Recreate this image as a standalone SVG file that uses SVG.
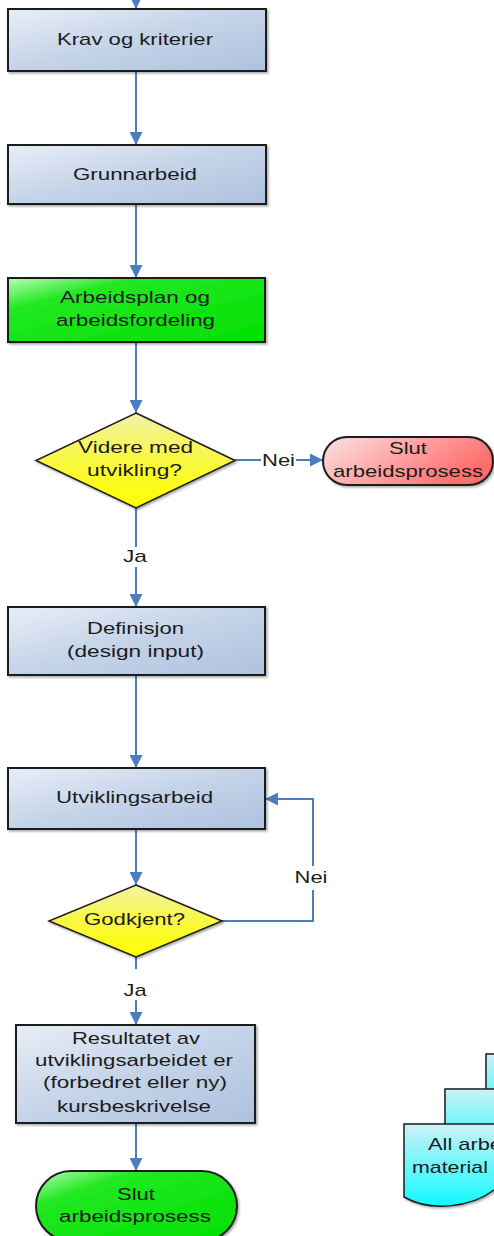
<svg xmlns="http://www.w3.org/2000/svg" width="494" height="1236" viewBox="0 0 494 1236">
<style>
text{font-family:"Liberation Sans",Arial,sans-serif;font-size:17px;fill:#1c1c1c;text-anchor:middle}
.box{fill:url(#gBlue);stroke:#1e1e1e;stroke-width:2;filter:url(#sh)}
.green{fill:url(#gGreen);stroke:#1e1e1e;stroke-width:2;filter:url(#sh)}
.dia{fill:url(#gYellow);stroke:#1e1e1e;stroke-width:1.5;filter:url(#sh)}
.red{fill:url(#gRed);stroke:#1e1e1e;stroke-width:2;filter:url(#sh)}
.doc{fill:url(#gCyan);stroke:#1e1e1e;stroke-width:1.5;filter:url(#sh)}
.ln{fill:none;stroke:#4a7ebf;stroke-width:2}
.arr{marker-end:url(#ah)}
.lbg{fill:#ffffff}
</style>
<defs>
<linearGradient id="gBlue" x1="0" y1="0" x2="1" y2="1">
<stop offset="0" stop-color="#e8eef7"/>
<stop offset="0.5" stop-color="#c4d3e8"/>
<stop offset="1" stop-color="#aec2de"/>
</linearGradient>
<linearGradient id="gGreen" x1="0" y1="0" x2="1" y2="1">
<stop offset="0" stop-color="#b8ffb8"/>
<stop offset="0.25" stop-color="#22e822"/>
<stop offset="1" stop-color="#00e000"/>
</linearGradient>
<linearGradient id="gYellow" x1="0" y1="0" x2="0" y2="1">
<stop offset="0" stop-color="#f2f2a8"/>
<stop offset="0.5" stop-color="#f8f840"/>
<stop offset="1" stop-color="#ffff00"/>
</linearGradient>
<linearGradient id="gRed" x1="0" y1="0" x2="1" y2="0.4">
<stop offset="0" stop-color="#fbe4e4"/>
<stop offset="0.6" stop-color="#ff9a9a"/>
<stop offset="1" stop-color="#ff6e6e"/>
</linearGradient>
<linearGradient id="gCyan" x1="0" y1="0" x2="0" y2="1">
<stop offset="0" stop-color="#cdf2f6"/>
<stop offset="1" stop-color="#10faff"/>
</linearGradient>
<filter id="sh" x="-5%" y="-5%" width="115%" height="120%">
<feDropShadow dx="1.5" dy="1.5" stdDeviation="1" flood-color="#000" flood-opacity="0.35"/>
</filter>
<marker id="ah" viewBox="0 0 10 10" refX="10" refY="5" markerWidth="13" markerHeight="13" markerUnits="userSpaceOnUse" orient="auto">
<path d="M0,0 L10,5 L0,10 z" fill="#4a7ebf"/>
</marker>
</defs>

<g id="connectors">
<line class="ln arr" x1="136" y1="-4" x2="136" y2="9"/>
<line class="ln arr" x1="136" y1="71" x2="136" y2="145"/>
<line class="ln arr" x1="136" y1="204" x2="136" y2="278"/>
<line class="ln arr" x1="136" y1="342" x2="136" y2="413"/>
<line class="ln arr" x1="235" y1="460" x2="323" y2="460"/>
<rect class="lbg" x="261" y="451" width="35" height="18"/>
<text x="278.5" y="466" textLength="33" lengthAdjust="spacingAndGlyphs">Nei</text>
<line class="ln arr" x1="136" y1="508" x2="136" y2="607"/>
<rect class="lbg" x="122" y="547" width="28" height="20"/>
<text x="135" y="562" textLength="24" lengthAdjust="spacingAndGlyphs">Ja</text>
<line class="ln arr" x1="136" y1="675" x2="136" y2="768"/>
<line class="ln arr" x1="136" y1="829" x2="136" y2="885"/>
<polyline class="ln arr" points="222,921 313,921 313,799 265,799"/>
<rect class="lbg" x="293" y="866" width="36" height="24"/>
<text x="311" y="883" textLength="33" lengthAdjust="spacingAndGlyphs">Nei</text>
<line class="ln arr" x1="136" y1="957" x2="136" y2="1025"/>
<rect class="lbg" x="121" y="969" width="30" height="31"/>
<text x="135" y="996" textLength="23" lengthAdjust="spacingAndGlyphs">Ja</text>
<line class="ln arr" x1="136" y1="1123" x2="136" y2="1171"/>
</g>

<g id="krav">
<rect class="box" x="8" y="9" width="258" height="62"/>
<text x="135" y="45" textLength="156" lengthAdjust="spacingAndGlyphs">Krav og kriterier</text>
</g>

<g id="grunnarbeid">
<rect class="box" x="8" y="145" width="258" height="59"/>
<text x="135" y="180" textLength="124" lengthAdjust="spacingAndGlyphs">Grunnarbeid</text>
</g>

<g id="arbeidsplan">
<rect class="green" x="8" y="278" width="257" height="64"/>
<text x="135" y="303" textLength="150" lengthAdjust="spacingAndGlyphs">Arbeidsplan og</text>
<text x="135.5" y="326" textLength="159" lengthAdjust="spacingAndGlyphs">arbeidsfordeling</text>
</g>

<g id="videre">
<polygon class="dia" points="136,413 235,460.5 136,508 36,460.5"/>
<text x="135.5" y="453" textLength="115" lengthAdjust="spacingAndGlyphs">Videre med</text>
<text x="134.5" y="476" textLength="95" lengthAdjust="spacingAndGlyphs">utvikling?</text>
</g>

<g id="slut1">
<rect class="red" x="323" y="437" width="170" height="48" rx="24" ry="24"/>
<text x="408" y="454" textLength="38" lengthAdjust="spacingAndGlyphs">Slut</text>
<text x="408" y="477" textLength="150" lengthAdjust="spacingAndGlyphs">arbeidsprosess</text>
</g>

<g id="definisjon">
<rect class="box" x="8" y="607" width="257" height="68"/>
<text x="135.5" y="634" textLength="97" lengthAdjust="spacingAndGlyphs">Definisjon</text>
<text x="135.5" y="657" textLength="137" lengthAdjust="spacingAndGlyphs">(design input)</text>
</g>

<g id="utvikling">
<rect class="box" x="8" y="768" width="257" height="61"/>
<text x="134.5" y="803" textLength="157" lengthAdjust="spacingAndGlyphs">Utviklingsarbeid</text>
</g>

<g id="godkjent">
<polygon class="dia" points="136,885 222,921 136,957 49,921"/>
<text x="134.5" y="925" textLength="101" lengthAdjust="spacingAndGlyphs">Godkjent?</text>
</g>

<g id="resultatet">
<rect class="box" x="16" y="1025" width="239" height="98"/>
<text x="136" y="1044" textLength="128" lengthAdjust="spacingAndGlyphs">Resultatet av</text>
<text x="134" y="1066" textLength="198" lengthAdjust="spacingAndGlyphs">utviklingsarbeidet er</text>
<text x="135" y="1088" textLength="184" lengthAdjust="spacingAndGlyphs">(forbedret eller ny)</text>
<text x="134" y="1112" textLength="154" lengthAdjust="spacingAndGlyphs">kursbeskrivelse</text>
</g>

<g id="slut2">
<rect class="green" x="36" y="1171" width="201" height="70" rx="35" ry="35"/>
<text x="136" y="1200" textLength="38" lengthAdjust="spacingAndGlyphs">Slut</text>
<text x="135" y="1222" textLength="152" lengthAdjust="spacingAndGlyphs">arbeidsprosess</text>
</g>

<g id="material">
<rect class="doc" x="486" y="1054" width="60" height="70"/>
<rect class="doc" x="445" y="1089" width="100" height="70"/>
<path class="doc" d="M404,1124 L560,1124 L560,1176 C540,1172 515,1176 494,1190 C470,1208 430,1212 404,1197 Z"/>
<text x="428" y="1150" style="text-anchor:start" textLength="74" lengthAdjust="spacingAndGlyphs">All arbe</text>
<text x="412" y="1173" style="text-anchor:start" textLength="76" lengthAdjust="spacingAndGlyphs">material</text>
</g>
</svg>
